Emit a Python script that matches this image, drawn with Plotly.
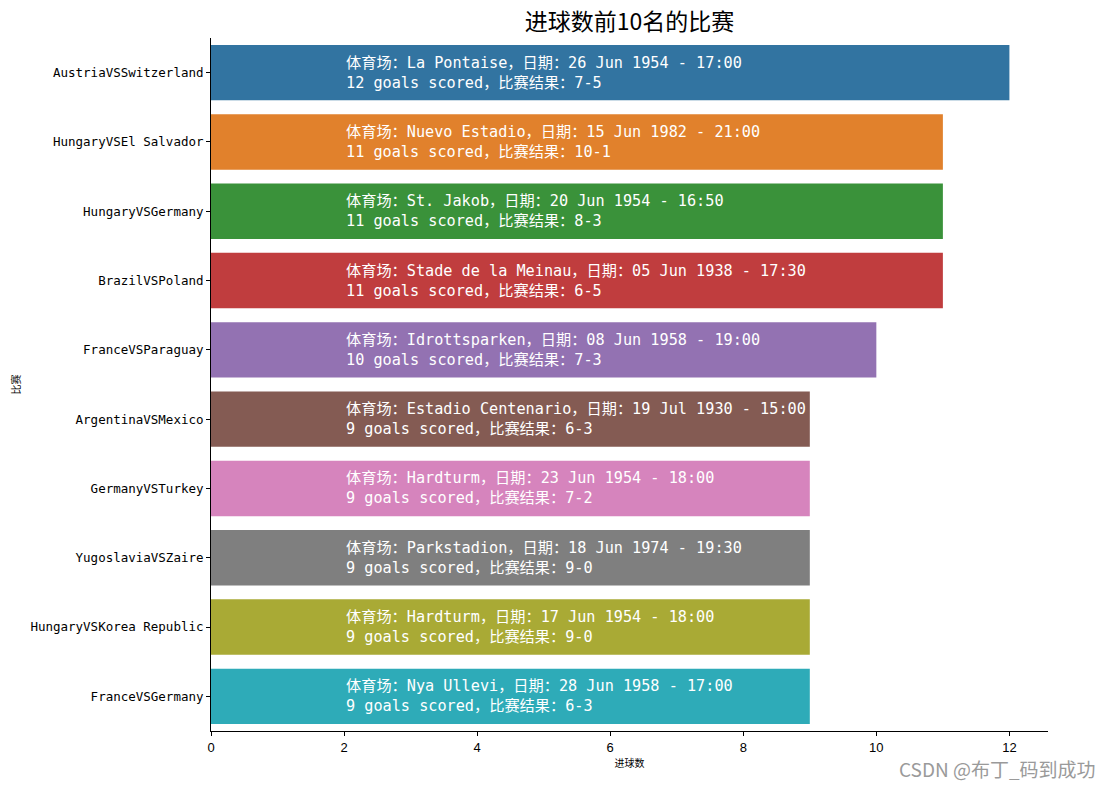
import plotly.graph_objects as go

matches = ["AustriaVSSwitzerland", "HungaryVSEl Salvador", "HungaryVSGermany", "BrazilVSPoland",
           "FranceVSParaguay", "ArgentinaVSMexico", "GermanyVSTurkey", "YugoslaviaVSZaire",
           "HungaryVSKorea Republic", "FranceVSGermany"]
goals = [12, 11, 11, 11, 10, 9, 9, 9, 9, 9]
stadiums = ["La Pontaise", "Nuevo Estadio", "St. Jakob", "Stade de la Meinau", "Idrottsparken",
            "Estadio Centenario", "Hardturm", "Parkstadion", "Hardturm", "Nya Ullevi"]
dates = ["26 Jun 1954 - 17:00", "15 Jun 1982 - 21:00", "20 Jun 1954 - 16:50", "05 Jun 1938 - 17:30",
         "08 Jun 1958 - 19:00", "19 Jul 1930 - 15:00", "23 Jun 1954 - 18:00", "18 Jun 1974 - 19:30",
         "17 Jun 1954 - 18:00", "28 Jun 1958 - 17:00"]
scores = ["7-5", "10-1", "8-3", "6-5", "7-3", "6-3", "7-2", "9-0", "9-0", "6-3"]
colors = ["#3274a1", "#e1812c", "#3a923a", "#c03d3e", "#9372b2",
          "#845b53", "#d684bd", "#7f7f7f", "#a9aa35", "#2eabb8"]
text_x = 2
xticks = [0, 2, 4, 6, 8, 10, 12]

MONO = "DejaVu Sans Mono, Noto Sans CJK SC, monospace"
CJK = "Noto Sans CJK SC, sans-serif"

W, H = 1113, 787
L, R, T, B = 203, 73, 30, 64
pw = W - L - R
ph = H - T - B

fig = go.Figure()
fig.add_trace(go.Bar(
    x=goals, y=matches, orientation="h", width=0.8,
    marker=dict(color=colors, line=dict(width=0)),
    hoverinfo="skip", showlegend=False,
))

for m, g, s, d, sc in zip(matches, goals, stadiums, dates, scores):
    fig.add_annotation(
        x=text_x, y=m, xref="x", yref="y", xanchor="left", yanchor="middle",
        text=f"体育场：{s}，日期：{d}<br>{g} goals scored，比赛结果：{sc}",
        showarrow=False, align="left",
        font=dict(family=MONO, size=15.2, color="white"),
    )

fig.add_annotation(
    x=(1090 - L) / pw, y=(H - B - 760) / ph, xref="paper", yref="paper",
    text="CSDN @布丁_码到成功",
    showarrow=False, font=dict(family=CJK, size=19, color="#9a9a9a"),
    xanchor="right", yanchor="middle",
)

fig.update_layout(
    width=W, height=H,
    margin=dict(l=L, r=R, t=T, b=B),
    paper_bgcolor="white", plot_bgcolor="white",
    title=dict(text="进球数前10名的比赛", x=(L + pw / 2) / W, xanchor="center",
               y=1 - 14 / H, yanchor="middle",
               font=dict(family=CJK, size=23, color="black")),
    bargap=0.2,
)
fig.update_xaxes(
    range=[0, 12.58], tickvals=xticks, ticks="outside", ticklen=4, tickcolor="black",
    showline=True, linecolor="black", linewidth=1, showgrid=False, zeroline=False,
    automargin=False,
    tickfont=dict(family="Liberation Sans, Arial, sans-serif", size=13, color="black"),
    title=dict(text="进球数", font=dict(family=CJK, size=10, color="black"), standoff=6),
)
fig.update_yaxes(
    categoryorder="array", categoryarray=matches, autorange=False, range=[9.5, -0.5],
    ticks="outside", ticklen=4, tickcolor="black",
    showline=True, linecolor="black", linewidth=1, showgrid=False, zeroline=False,
    automargin=False,
    tickfont=dict(family=MONO, size=12.5, color="black"),
    title=dict(text="比赛", font=dict(family=CJK, size=10, color="black"), standoff=14),
)

fig.write_html("out.html")
